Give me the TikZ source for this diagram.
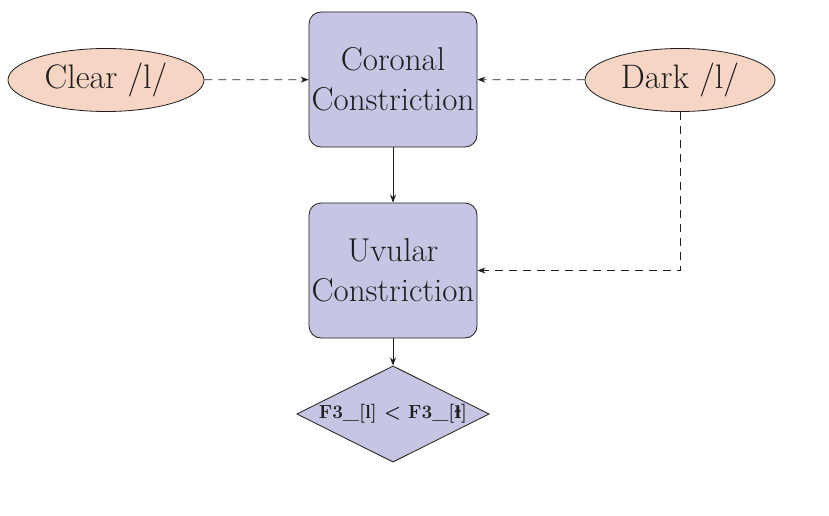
\documentclass[tikz,border=0pt]{standalone}
\usepackage{fontspec}
\newfontfamily\ipafont{DejaVu Serif}[Scale=0.88]
\usetikzlibrary{shapes.geometric,arrows.meta}
\definecolor{boxfill}{RGB}{198,197,227}
\definecolor{ellfill}{RGB}{246,213,196}
\definecolor{inkc}{RGB}{30,30,30}
\begin{document}
\begin{tikzpicture}[x=1pt,y=-1pt,
  procbox/.style={draw=inkc,fill=boxfill,rounded corners=12pt,line width=0.8pt,
    minimum width=168pt,minimum height=135pt,inner sep=0pt,align=center,
    text=inkc,font=\fontsize{33}{40}\selectfont},
  sound/.style={draw=inkc,fill=ellfill,ellipse,line width=0.8pt,inner sep=0pt,
    text=inkc,font=\fontsize{34}{36}\selectfont},
  decision/.style={draw=inkc,fill=boxfill,diamond,shape aspect=2,line width=0.8pt,
    minimum width=192pt,minimum height=95pt,inner sep=1pt,text=inkc,
    font=\fontsize{19}{22}\selectfont\bfseries},
  flow/.style={draw=inkc,line width=0.8pt,-{Stealth[length=8pt,width=6pt,inset=2.5pt]}},
  dflow/.style={flow,dash pattern=on 8pt off 6pt}]
\useasboundingbox (0,0) rectangle (829,516);
\node[procbox] (cor) at (393,79.5) {Coronal\\Constriction};
\node[procbox] (uvu) at (393,270.5) {Uvular\\Constriction};
\node[sound,minimum width=196pt,minimum height=63pt] (clear) at (106,80) {Clear /l/};
\node[sound,minimum width=190pt,minimum height=63pt] (dark) at (680,80) {Dark /l/};
\node[decision] (dec) at (393,414) {F3\_[l] < F3\_[{\ipafont\bfseries ɫ}]};
\draw[dflow] (clear) -- (cor);
\draw[dflow] (dark) -- (cor);
\draw[flow] (cor) -- (uvu);
\draw[dflow] (dark.south) |- (uvu.east);
\draw[flow] (uvu) -- (dec);
\end{tikzpicture}
\end{document}
